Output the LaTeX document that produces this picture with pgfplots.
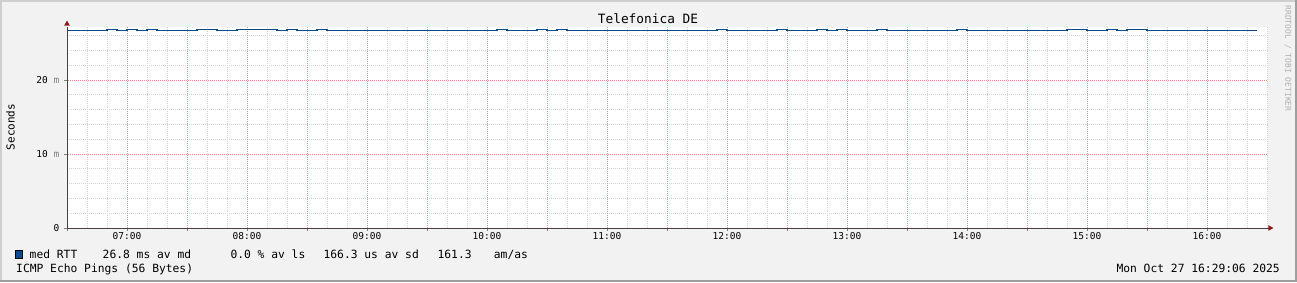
\documentclass[border=0pt]{standalone}
\usepackage{pgfplots}
\pgfplotsset{compat=1.18}
\usepackage{pgfplotstable}
\usepackage{fontspec}
\setmainfont{DejaVu Sans Mono}
\definecolor{backc}{HTML}{F2F2F2}
\definecolor{shadea}{HTML}{CFCFCF}
\definecolor{shadeb}{HTML}{9E9E9E}
\definecolor{gridc}{HTML}{D4D4D4}
\definecolor{mgridc}{HTML}{E59090}
\definecolor{axisc}{HTML}{4A3E3E}
\definecolor{arrowc}{HTML}{8B1A1A}
\definecolor{medc}{HTML}{0B4C8C}
\definecolor{wmark}{HTML}{B0B0B0}
\pgfplotstableread{
t ms
0 26.71
20 26.85
25 26.71
30 26.85
35 26.71
40 26.85
45 26.71
65 26.85
75 26.71
85 26.85
105 26.71
110 26.85
115 26.71
125 26.85
130 26.71
215 26.85
220 26.71
235 26.85
240 26.71
245 26.85
250 26.71
325 26.85
330 26.71
355 26.85
360 26.71
375 26.85
380 26.71
385 26.85
390 26.71
405 26.85
410 26.71
445 26.85
450 26.71
500 26.85
510 26.71
520 26.85
525 26.71
530 26.85
540 26.71
595 26.71
}\medrtt
\newcommand{\fs}[1]{\fontsize{#1bp}{#1bp}\selectfont}
\begin{document}
\begin{tikzpicture}[x=1bp,y=1bp]
\useasboundingbox (0,0) rectangle (1297,282);
\fill[backc] (0,0) rectangle (1297,282);
\fill[shadea] (0,280) rectangle (1297,282);
\fill[shadea] (0,0) rectangle (2,282);
\fill[shadeb] (0,0) rectangle (1297,2);
\fill[shadeb] (1295,0) rectangle (1297,282);
\begin{axis}[
  at={(67bp,54bp)}, anchor=south west,
  scale only axis, width=1201bp, height=201bp,
  xmin=0, xmax=600.5, ymin=0, ymax=27.16,
  axis x line*=bottom, axis y line*=left,
  axis line style={draw=axisc, line width=1bp},
  axis background/.style={fill=white},
  xtick={0,30,...,570},
  xticklabels={,07:00,,08:00,,09:00,,10:00,,11:00,,12:00,,13:00,,14:00,,15:00,,16:00},
  ytick={0,10,20},
  yticklabels={0,{10 \textcolor{gray}{m}},{20 \textcolor{gray}{m}}},
  tick align=outside,
  major tick length=3bp,
  xticklabel style={font=\fs{9.5}, anchor=base, inner sep=0pt, yshift=-8bp},
  yticklabel style={font=\fs{9.5}, anchor=east, inner sep=0pt, xshift=-4.5bp},
  clip=false,
  axis on top,
]
\foreach \gx in {10,20,40,50,70,80,100,110,130,140,160,170,190,200,220,230,250,260,280,290,310,320,340,350,370,380,400,410,430,440,460,470,490,500,520,530,550,560,580,590,600}
  {\edef\tmp{\noexpand\draw[gridc, xshift=0.5bp, line width=1bp, dash pattern=on 1bp off 1bp] (axis cs:\gx,0) -- (axis cs:\gx,27.16);}\tmp}
\foreach \gy in {2,4,6,8,12,14,16,18,22,24,26}
  {\edef\tmp{\noexpand\draw[gridc, line width=0.9bp, dash pattern=on 1bp off 1bp] (axis cs:0,\gy) -- (axis cs:600.5,\gy);}\tmp}
\foreach \gx in {30,60,...,570}
  {\edef\tmp{\noexpand\draw[mgridc, xshift=0.5bp, line width=1bp, dash pattern=on 1bp off 1bp] (axis cs:\gx,0) -- (axis cs:\gx,27.16);}\tmp}
\foreach \gy in {10,20}
  {\edef\tmp{\noexpand\draw[mgridc, line width=0.9bp, dash pattern=on 1bp off 1bp] (axis cs:-1.5,\gy) -- (axis cs:600.5,\gy);}\tmp}
\addplot[const plot, draw=medc, line width=1.3bp] table[x=t, y=ms] {\medrtt};
\draw[draw=axisc, line width=1bp] (rel axis cs:1,0) -- (rel axis cs:1.0025,0);
\fill[arrowc] (rel axis cs:1.0045,0) -- ++(-5bp,2.8bp) -- ++(0,-5.6bp) -- cycle;
\fill[arrowc] (rel axis cs:0,1.032) -- ++(2.8bp,-5bp) -- ++(-5.6bp,0) -- cycle;
\end{axis}
\node[font=\fs{12.8}, anchor=base, inner sep=0pt] at (648,282-23.5) {Telefonica DE};
\node[font=\fs{11}, rotate=90, inner sep=0pt] at (10.5,282-127) {Seconds};
\node[font=\fs{8}, rotate=-90, inner sep=0pt, text=wmark] at (1288,282-58.5) {RRDTOOL / TOBI OETIKER};
\filldraw[fill=medc, draw=black, line width=0.8bp] (15.5,282-258) rectangle (22.5,282-250.5);
\begin{scope}[every node/.style={font=\fs{11.3}, anchor=base west, inner sep=0pt}]
\node at (29.5,282-258) {med RTT};
\node at (102.5,282-258) {26.8 ms av md};
\node at (230.3,282-258) {0.0 \% av ls};
\node at (323.4,282-258) {166.3 us av sd};
\node at (437.4,282-258) {161.3};
\node at (493.7,282-258) {am/as};
\node at (16,282-272) {ICMP Echo Pings (56 Bytes)};
\end{scope}
\node[font=\fs{11.3}, anchor=base east, inner sep=0pt] at (1280,282-272) {Mon Oct 27 16:29:06 2025};
\end{tikzpicture}
\end{document}
